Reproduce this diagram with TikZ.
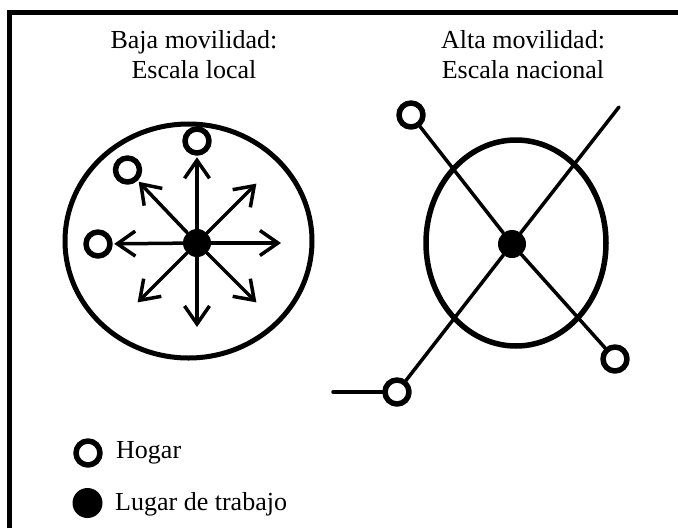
\documentclass[tikz,border=0pt]{standalone}
\usepackage{fontspec}
\setmainfont{Liberation Serif}
\usetikzlibrary{arrows.meta}

\tikzset{
	hogar/.style = {circle, draw, line width=5.5pt, minimum size=24pt, inner sep=0pt},
	trabajo/.style = {circle, fill, minimum size=28pt, inner sep=0pt},
	anillo/.style = {line width=5pt},
	flecha/.style = {line width=3.5pt, ->, shorten >=1.5pt},
	linea/.style = {line width=3.5pt},
	rotulo/.style = {font=\fontsize{26}{30.5}\selectfont, align=center, inner sep=0pt},
}

\begin{document}
\begin{tikzpicture}[
		x = 1pt,
		y = -1pt,
		line join = round,
		line cap = round,
		> = {Straight Barb[length=18pt,width=25pt]},
		]
\useasboundingbox (0,0) rectangle (678,528);
\draw[line width=5pt, line cap=butt, line join=miter]	(9.5,528) -- (9.5,12) -- (678,12);

% titulos
\node[rotulo, anchor=base]	(tizq) at (194,78.5)	{Baja movilidad:\\Escala local};
\node[rotulo, anchor=base]	(tder) at (523,78.5)	{Alta movilidad:\\Escala nacional};

% baja movilidad
\draw[anillo]	(188.5,241) ellipse [x radius=123.5, y radius=117];
\node[trabajo]	(tlocal) at (197,243)	{};
\node[hogar]	(hn)  at (197,141)	{};
\node[hogar]	(hno) at (127.5,170)	{};
\node[hogar]	(ho)  at (98,244)	{};
\draw[flecha]	(tlocal) -- (hn);
\draw[flecha]	(tlocal) -- (hno);
\draw[flecha]	(tlocal) -- (ho);
\foreach \a/\n in {0/e, -45/ne, 45/se, 90/s, 135/so}{
	\path (tlocal.center) ++(\a:84) coordinate (f\n);
	\draw[flecha, shorten >=0pt]	(tlocal) -- (f\n);
}

% alta movilidad
\draw[anillo, line width=5.5pt]	(516,243) ellipse [x radius=90, y radius=103];
\node[trabajo]	(tnac) at (512,244)	{};
\node[hogar]	(hnac1) at (411,115)	{};
\node[hogar]	(hnac2) at (615,359)	{};
\node[hogar]	(hnac3) at (397,392)	{};
\coordinate	(fne) at (619,107);
\coordinate	(fo)  at (333,392);
\draw[linea]	(hnac1) -- (tnac) -- (hnac2);
\draw[linea]	(hnac3) -- (tnac) -- (fne);
\draw[linea]	(fo) -- (hnac3);

% leyenda
\node[hogar]	(lhogar) at (88,453)	{};
\node[rotulo, anchor=base west]	(thogar) at (116,458)	{Hogar};
\node[trabajo, minimum size=30pt]	(ltrabajo) at (87.5,503)	{};
\node[rotulo, anchor=base west]	(ttrabajo) at (115,510.5)	{Lugar de trabajo};
\end{tikzpicture}
\end{document}
